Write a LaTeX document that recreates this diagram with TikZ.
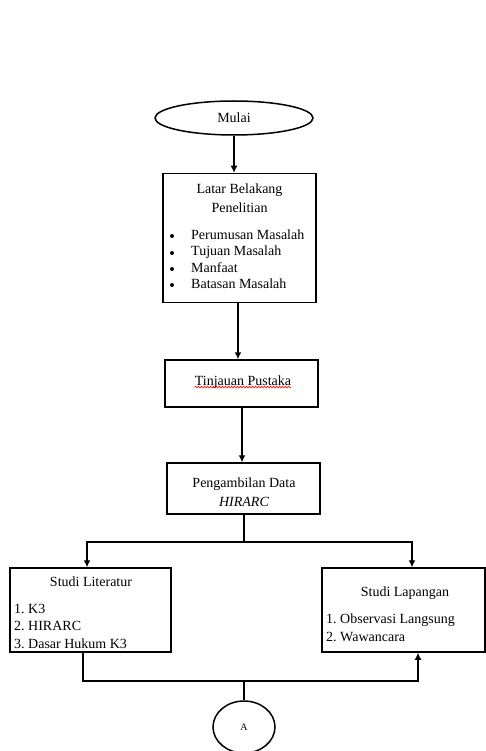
\documentclass[tikz,border=0pt]{standalone}
\usepackage{fontspec}
\setmainfont{Liberation Serif}
\usetikzlibrary{arrows.meta,shapes.geometric,decorations.pathmorphing}
\begin{document}
\frenchspacing
\begin{tikzpicture}[x=1pt,y=-1pt,
  box/.style={draw,line width=1.5pt,rectangle,inner sep=0pt},
  txt/.style={inner sep=0pt,font=\fontsize{14}{16}\selectfont},
  conn/.style={line width=1.5pt},
  arr/.style={conn,-{Latex[length=7pt,width=7pt]}}]
\useasboundingbox[fill=white] (0,0) rectangle (486,751);
% start
\node[box,ellipse,minimum width=158pt,minimum height=34pt] (mulai) at (234,118) {};
\node[txt] (tmulai) at (234,118) {Mulai};
% box 1
\node[box,minimum width=153pt,minimum height=129pt] (latar) at (239.5,238) {};
\node[txt] (t1a) at (239.5,190) {Latar Belakang};
\node[txt] (t1b) at (239.5,208) {Penelitian};
\foreach \y/\t [count=\i] in {235/Perumusan Masalah,252/Tujuan Masalah,268/Manfaat,284/Batasan Masalah}{
  \node[fill,circle,inner sep=0pt,minimum size=4pt] (b\i) at (172,\y+1) {};
  \node[txt,anchor=west] (l\i) at (191,\y) {\t};
}
% box 2
\node[box,minimum width=153pt,minimum height=47pt] (tin) at (241.5,383.5) {};
\node[txt] (ttin) at (243,382) {Tinjauan Pustaka};
\draw[red,line width=0.6pt,decorate,decoration={snake,amplitude=0.9pt,segment length=3pt}]
  ([yshift=1.5pt]ttin.south west) -- ([yshift=1.5pt]ttin.south east);
% box 3
\node[box,minimum width=153pt,minimum height=51pt] (peng) at (243.5,488.5) {};
\node[txt] (t3a) at (244,484) {Pengambilan Data};
\node[txt] (t3b) at (244,502) {\itshape HIRARC};
% left box
\node[box,minimum width=161pt,minimum height=84pt] (lit) at (90.5,610) {};
\node[txt] (tla) at (91,582) {Studi Literatur};
\node[txt,anchor=west] (tl1) at (14,609) {1. K3};
\node[txt,anchor=west] (tl2) at (14,626) {2. HIRARC};
\node[txt,anchor=west] (tl3) at (14,644) {3. Dasar Hukum K3};
% right box
\node[box,minimum width=163pt,minimum height=84pt] (lap) at (403.5,610) {};
\node[txt] (tra) at (405,593) {Studi Lapangan};
\node[txt,anchor=west] (tr1) at (326,620) {1. Observasi Langsung};
\node[txt,anchor=west] (tr2) at (326,637) {2. Wawancara};
% connector A
\node[box,ellipse,minimum width=62pt,minimum height=52pt] (A) at (244,727) {};
\node[inner sep=0pt,font=\fontsize{10}{12}\selectfont] (tA) at (244,727) {A};
% connectors
\draw[arr] (mulai.south) -- (mulai.south |- latar.north);
\draw[arr] (latar.south -| 238,0) -- (tin.north -| 238,0);
\coordinate (c1) at (242,0);
\draw[arr] (tin.south -| c1) -- (peng.north -| c1);
\coordinate (s0) at (244,542);
\coordinate (sl) at (87,542);
\coordinate (sr) at (412,542);
\draw[conn] (peng.south -| s0) -- (s0);
\draw[arr] (s0) -- (sl) -- (sl |- lit.north);
\draw[arr] (s0) -- (sr) -- (sr |- lap.north);
\coordinate (bl) at (83,681);
\coordinate (br) at (418,681);
\coordinate (bm) at (244,681);
\draw[arr] (bl |- lit.south) -- (bl) -- (br) -- (br |- lap.south);
\draw[conn] (bm) -- (A.north);
\end{tikzpicture}
\end{document}
